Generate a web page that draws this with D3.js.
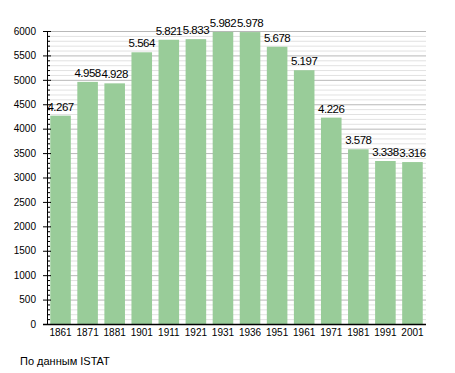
<!DOCTYPE html>
<html>
<head>
<meta charset="utf-8">
<script src="https://cdn.jsdelivr.net/npm/d3@7"></script>
<style>
  body { margin: 0; background: #fff; }
  svg text { font-family: "Liberation Sans", Arial, sans-serif; fill: #000; }
</style>
</head>
<body>
<div id="chart"></div>
<script>
// census years and population
const years = ["1861", "1871", "1881", "1901", "1911", "1921", "1931", "1936", "1951", "1961", "1971", "1981", "1991", "2001"];
const population = [4267, 4958, 4928, 5564, 5821, 5833, 5982, 5978, 5678, 5197, 4226, 3578, 3338, 3316];
const yTicks = [0, 500, 1000, 1500, 2000, 2500, 3000, 3500, 4000, 4500, 5000, 5500, 6000];
const source = "По данным ISTAT";

const width = 455, height = 373;
const margin = { top: 31, right: 29, bottom: 49, left: 47 };
const innerWidth = width - margin.left - margin.right;
const innerHeight = height - margin.top - margin.bottom;

const svg = d3.select("#chart").append("svg")
    .attr("width", width).attr("height", height);

const x = d3.scaleBand().domain(years).range([0, innerWidth])
    .paddingInner(0.24).paddingOuter(0.12);
const y = d3.scaleLinear().domain([0, 6000]).range([innerHeight, 0]);

const frame = svg.append("g")
    .attr("transform", "translate(" + margin.left + "," + margin.top + ")");

// minor grid every 100
frame.append("g").selectAll("line")
    .data(d3.range(100, 6001, 100).filter(d => d % 500 !== 0))
  .enter().append("line")
    .attr("x1", 0).attr("x2", innerWidth)
    .attr("y1", d => y(d) + 0.5).attr("y2", d => y(d) + 0.5)
    .attr("stroke", "#e2e2e2").attr("stroke-width", 1);

// major grid every 500
frame.append("g").selectAll("line")
    .data(yTicks.slice(1))
  .enter().append("line")
    .attr("x1", 0).attr("x2", innerWidth)
    .attr("y1", d => y(d) + 0.5).attr("y2", d => y(d) + 0.5)
    .attr("stroke", "#b8b8b8").attr("stroke-width", 1);

// bars
frame.append("g").selectAll("rect")
    .data(population)
  .enter().append("rect")
    .attr("x", (d, i) => x(years[i]))
    .attr("y", d => y(d))
    .attr("width", x.bandwidth())
    .attr("height", d => innerHeight - y(d))
    .attr("fill", "#99cc99");

// value labels
frame.append("g").selectAll("text")
    .data(population)
  .enter().append("text")
    .attr("x", (d, i) => x(years[i]) + x.bandwidth() / 2)
    .attr("y", d => y(d) - 5)
    .attr("text-anchor", "middle")
    .style("font-size", "11.5px")
    .style("letter-spacing", "-0.5px")
    .text(d => d3.format(",")(d).replace(",", "."));

// y axis with minor ticks
const yAxis = d3.axisLeft(y).tickValues(yTicks).tickFormat(d3.format("d")).tickSize(5).tickPadding(4);
const yG = frame.append("g").call(yAxis);
yG.select(".domain").remove();
yG.selectAll(".tick line").attr("x2", 4).attr("x1", -4).attr("stroke", "#000");
yG.selectAll("text").style("font-size", "10px").attr("x", -11);

frame.append("g").selectAll("line")
    .data(d3.range(100, 6000, 100).filter(d => d % 500 !== 0))
  .enter().append("line")
    .attr("x1", 0).attr("x2", 3)
    .attr("y1", d => y(d) + 0.5).attr("y2", d => y(d) + 0.5)
    .attr("stroke", "#000");

frame.append("line")
    .attr("x1", 0.5).attr("x2", 0.5).attr("y1", y(6000)).attr("y2", innerHeight)
    .attr("stroke", "#000");

// x axis
const xAxis = d3.axisBottom(x).tickSize(0).tickPadding(5);
const xG = frame.append("g").attr("transform", "translate(0," + innerHeight + ")").call(xAxis);
xG.select(".domain").remove();
xG.selectAll("text").style("font-size", "10px");
frame.append("line")
    .attr("x1", -4).attr("x2", innerWidth)
    .attr("y1", innerHeight + 0.5).attr("y2", innerHeight + 0.5)
    .attr("stroke", "#000").attr("stroke-width", 1.5);

svg.append("text")
    .attr("x", 20).attr("y", 365)
    .style("font-size", "11px")
    .text(source);
</script>
</body>
</html>
